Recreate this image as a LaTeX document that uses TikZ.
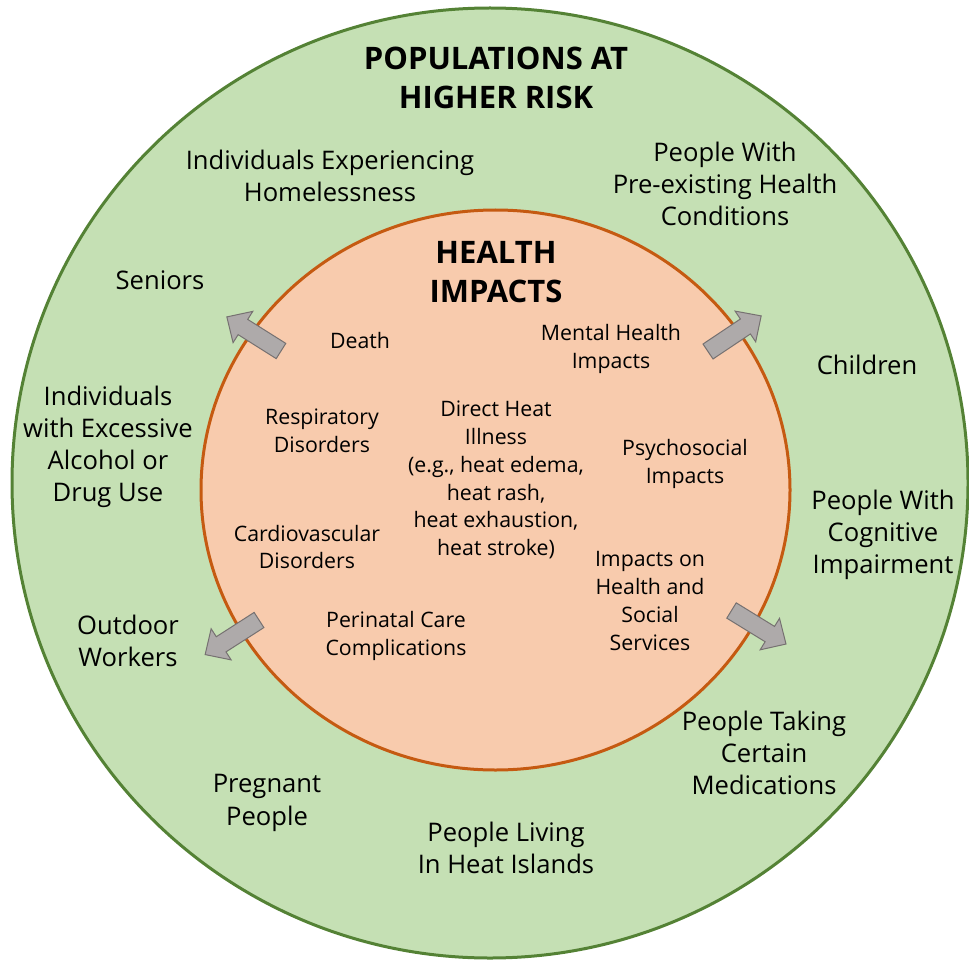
\documentclass[tikz,border=0pt]{standalone}
\usepackage{fontspec}
\setmainfont{Open Sans}
\definecolor{outerfill}{HTML}{C5E0B4}
\definecolor{outeredge}{HTML}{548235}
\definecolor{innerfill}{HTML}{F8CBAD}
\definecolor{inneredge}{HTML}{C55A11}
\definecolor{arrowfill}{HTML}{AEAAAA}
\definecolor{arrowedge}{HTML}{767171}
\tikzset{
  risk/.style={align=center, font=\fontsize{25.6}{32.2}\selectfont},
  impact/.style={align=center, font=\fontsize{21.3}{27.8}\selectfont},
  heading/.style={align=center, font=\bfseries\fontsize{31}{39}\selectfont},
  fatarrow/.pic={
    \draw[fill=arrowfill, draw=arrowedge, line width=1pt, line join=miter]
      (0,-9) -- (45,-9) -- (45,-18.5) -- (64,0) -- (45,18.5) -- (45,9) -- (0,9) -- cycle;
  }
}
\begin{document}
\begin{tikzpicture}[x=1pt,y=-1pt]
          \useasboundingbox (0,0) rectangle (969,960);
          % the two rings
          \filldraw[fill=outerfill, draw=outeredge, line width=3pt] (490,483) ellipse [x radius=478, y radius=475];
          \filldraw[fill=innerfill, draw=inneredge, line width=3pt] (495.5,490) ellipse [x radius=294.5, y radius=280];

          % arrows across the inner ring
          \pic[rotate=147.8] at (281,351) {fatarrow};
          \pic[rotate=33.8] at (708,351.5) {fatarrow};
          \pic[rotate=212.7] at (259,620) {fatarrow};
          \pic[rotate=-31.6] at (731.5,610.5) {fatarrow};

          % populations
          \node[heading] (poptitle) at (496,78) {POPULATIONS AT\\HIGHER RISK};
          \node[risk] (homeless) at (330,176) {Individuals Experiencing\\Homelessness};
          \node[risk] (preexist) at (725,184) {People With\\Pre-existing Health\\Conditions};
          \node[risk] (seniors) at (160,280) {Seniors};
          \node[risk] (children) at (867,365) {Children};
          \node[risk] (alcohol) at (108,447) {Individuals\\with Excessive\\Alcohol or\\Drug Use};
          \node[risk] (cognitive) at (883,535) {People With\\Cognitive\\Impairment};
          \node[risk] (outdoor) at (128,641) {Outdoor\\Workers};
          \node[risk] (medication) at (764,753) {People Taking\\Certain\\Medications};
          \node[risk] (pregnant) at (267,803) {Pregnant\\People};
          \node[risk] (heatisland) at (506,848) {People Living\\In Heat Islands};

          % impacts
          \node[heading] (imptitle) at (496,272) {HEALTH\\IMPACTS};
          \node[impact] (death) at (360,341) {Death};
          \node[impact] (mental) at (611,349) {Mental Health\\Impacts};
          \node[impact] (respiratory) at (322,431) {Respiratory\\Disorders};
          \node[impact] (directheat) at (496,480) {Direct Heat\\Illness\\(e.g., heat edema,\\heat rash,\\heat exhaustion,\\heat stroke)};
          \node[impact] (psychosocial) at (685,464) {Psychosocial\\Impacts};
          \node[impact] (cardio) at (307,547) {Cardiovascular\\Disorders};
          \node[impact] (services) at (650,601) {Impacts on\\Health and\\Social\\Services};
          \node[impact] (perinatal) at (396,636) {Perinatal Care\\Complications};
        \end{tikzpicture}
\end{document}
